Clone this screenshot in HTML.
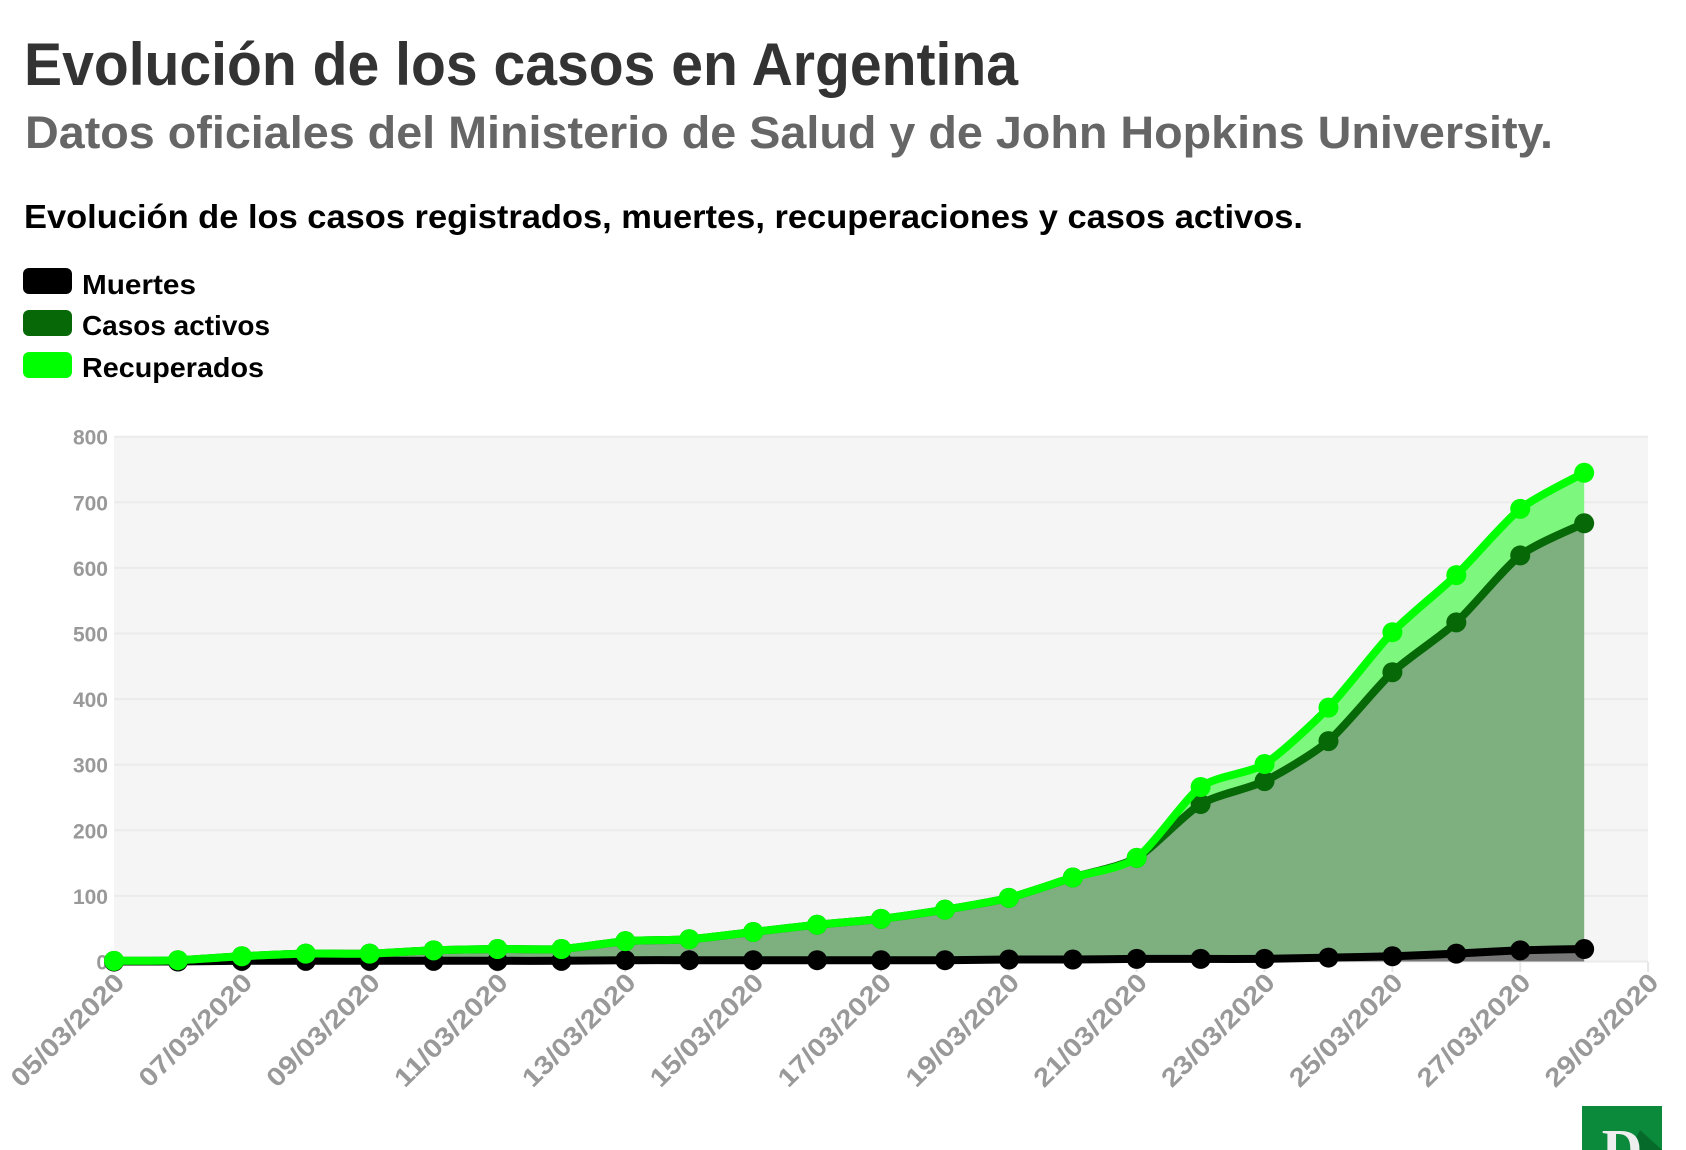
<!DOCTYPE html>
<html><head><meta charset="utf-8"><style>
html,body{margin:0;padding:0;background:#fff;width:1686px;height:1150px;overflow:hidden}
svg{display:block;font-family:"Liberation Sans",sans-serif;font-weight:bold}
</style></head><body>
<svg id="s" width="1686" height="1150" xmlns="http://www.w3.org/2000/svg">
<text x="24" y="85" font-size="60" fill="#333" textLength="994" lengthAdjust="spacingAndGlyphs">Evolución de los casos en Argentina</text>
<text x="25" y="148" font-size="45" fill="#666" textLength="1528" lengthAdjust="spacingAndGlyphs">Datos oficiales del Ministerio de Salud y de John Hopkins University.</text>
<text x="24" y="228" font-size="33" fill="#000" textLength="1279" lengthAdjust="spacingAndGlyphs">Evolución de los casos registrados, muertes, recuperaciones y casos activos.</text>
<rect x="23" y="268" width="49" height="26" rx="6" fill="#000"/>
<rect x="23" y="310" width="49" height="26" rx="6" fill="#066806"/>
<rect x="23" y="352" width="49" height="26" rx="6" fill="#00ff00"/>
<text x="82" y="294" font-size="28" fill="#000" textLength="114" lengthAdjust="spacingAndGlyphs">Muertes</text>
<text x="82" y="335" font-size="28" fill="#000" textLength="188" lengthAdjust="spacingAndGlyphs">Casos activos</text>
<text x="82" y="377" font-size="28" fill="#000" textLength="182" lengthAdjust="spacingAndGlyphs">Recuperados</text>
<rect x="114" y="437" width="1534" height="525" fill="#f5f5f5"/>
<g id="g"></g>
<rect x="1582" y="1106" width="80" height="44" fill="#0a8a3a"/>
<polygon points="1640,1130 1662,1150 1630,1150" fill="#066a2a"/>
<text x="1622" y="1168" font-size="56" fill="#eee" text-anchor="middle" font-family="Liberation Serif,serif">D</text>
</svg>
<script>
var g=document.getElementById('g'),h='';
function X(i){return 114+63.92*i}function Y(v){return 961.5-0.656*v}
for(var v=0;v<=800;v+=100){h+='<line x1="114" x2="1648" y1="'+Y(v)+'" y2="'+Y(v)+'" stroke="#ebebeb" stroke-width="2"/>';
h+='<text x="108" y="'+(Y(v)+8)+'" font-size="21" fill="#999" text-anchor="end">'+v+'</text>';}
for(var d=5;d<=29;d+=2){var x=X(d-5);h+='<line x1="'+x+'" x2="'+x+'" y1="962" y2="972" stroke="#e6e6e6" stroke-width="2"/>';
h+='<text transform="translate('+(x+12)+',984) rotate(-45)" font-size="26" fill="#999" text-anchor="end" textLength="148" lengthAdjust="spacingAndGlyphs">'+(d<10?'0':'')+d+'/03/2020</text>';}
var tot=[1,2,8,12,12,17,19,19,31,34,45,56,65,79,97,128,158,266,301,387,502,589,690,745];
var act=[1,2,8,12,12,17,19,19,31,34,45,56,65,79,97,128,158,240,275,336,441,517,619,668];
var dea=[0,0,1,1,1,1,1,1,2,2,2,2,2,2,3,3,4,4,4,6,8,12,17,19];
function P(a){return a.map(function(v,i){return [X(i),Y(v)]})}
function curve(p,move){var s=(move?'M':'L')+p[0][0].toFixed(1)+','+p[0][1].toFixed(1);var t=0.12;
for(var i=0;i<p.length-1;i++){var p0=p[i-1]||p[i],p1=p[i],p2=p[i+1],p3=p[i+2]||p2;
s+='C'+(p1[0]+(p2[0]-p0[0])*t).toFixed(1)+','+(p1[1]+(p2[1]-p0[1])*t).toFixed(1)+' '+(p2[0]-(p3[0]-p1[0])*t).toFixed(1)+','+(p2[1]-(p3[1]-p1[1])*t).toFixed(1)+' '+p2[0].toFixed(1)+','+p2[1].toFixed(1);}return s}
function area(a,b){return curve(P(a),1)+curve(P(b).reverse(),0)+'Z'}
var z=dea.map(function(){return 0});
h+='<path d="'+area(tot,act)+'" fill="#7ef77e"/>';
h+='<path d="'+area(act,dea)+'" fill="#7db07e"/>';
h+='<path d="'+area(dea,z)+'" fill="#777"/>';
[[dea,'#000'],[act,'#066806'],[tot,'#00ff00']].forEach(function(s){
h+='<path d="'+curve(P(s[0]),1)+'" fill="none" stroke="'+s[1]+'" stroke-width="8" stroke-linejoin="round"/>';
s[0].forEach(function(v,i){h+='<circle cx="'+X(i)+'" cy="'+Y(v)+'" r="10" fill="'+s[1]+'"/>'});});
g.innerHTML=h;
</script>
</body></html>
